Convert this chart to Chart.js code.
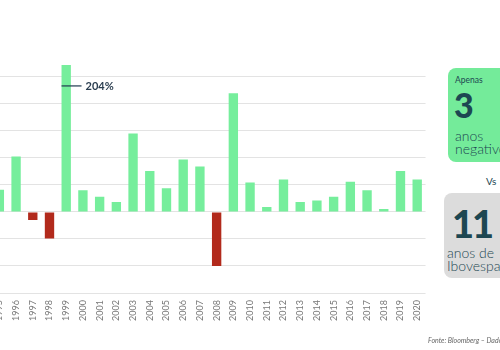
<!DOCTYPE html>
<html>
<head>
<meta charset="utf-8">
<script src="https://cdn.jsdelivr.net/npm/chart.js@4"></script>
<style>
  html, body { margin: 0; padding: 0; background: #fff; }
  body { width: 500px; height: 350px; overflow: hidden; position: relative; font-family: Lato, sans-serif; }
  #wrap { position: absolute; left: -9px; top: 0; width: 444px; height: 350px; }
  .box { position: absolute; border-radius: 8px; width: 90px; color: #1d4752; }
  #green { left: 448px; top: 68px; height: 94px; background: #74eb9a; }
  #gray { left: 444px; top: 193px; height: 85px; background: #dcdcdc; }
  .small { position: absolute; font-size: 8.5px; }
  .big { position: absolute; font-weight: 900; line-height: 1; }
  .txt { position: absolute; font-size: 14px; line-height: 13px; font-weight: 300; white-space: nowrap; }
  #vs { position: absolute; left: 486px; top: 175px; font-size: 10px; color: #1d4752; }
  #fonte { position: absolute; left: 428px; top: 336px; font-size: 7px; font-style: italic; color: #666; white-space: nowrap; }
</style>
</head>
<body>
<div id="wrap"><canvas id="grafico"></canvas></div>

<div class="box" id="green">
  <div class="small" style="left:7px; top:7px;">Apenas</div>
  <div class="big" style="left:6px; top:20px; font-size:34px;">3</div>
  <div class="txt" style="left:7px; top:61px;">anos<br>negativos</div>
</div>
<div id="vs">Vs</div>
<div class="box" id="gray">
  <div class="big" style="left:8px; top:11px; font-size:38px; letter-spacing:-2px;">11</div>
  <div class="txt" style="left:3px; top:53px;">anos de<br>Ibovespa negativos</div>
</div>
<div id="fonte">Fonte: Bloomberg – Dados</div>

<script>
const anos = ['1995', '1996', '1997', '1998', '1999', '2000', '2001', '2002', '2003',
  '2004', '2005', '2006', '2007', '2008', '2009', '2010', '2011', '2012', '2013',
  '2014', '2015', '2016', '2017', '2018', '2019', '2020'];
const retornos = [31, 77, -11, -37, 204, 30, 21, 14, 109, 57, 33, 73, 63, -75, 165,
  41, 7, 45, 14, 16, 21, 42, 30, 4, 57, 45];
const gridTicks = [-112.5, -75, -37.5, 0, 37.5, 75, 112.5, 150, 187.5];
const destaque = { ano: '1999', texto: '204%', nivel: 175 };

const cores = retornos.map(v => v < 0 ? '#b22a1c' : '#76ee9c');

// linha + texto do destaque de 1999
const rotulo = {
  id: 'rotulo',
  afterDatasetsDraw(chart) {
    const ctx = chart.ctx;
    const meta = chart.getDatasetMeta(0);
    const bar = meta.data[anos.indexOf(destaque.ano)];
    const y = chart.scales.y.getPixelForValue(destaque.nivel);
    const x0 = bar.x - bar.width / 2;
    ctx.save();
    ctx.strokeStyle = '#1f3a4f';
    ctx.lineWidth = 1.2;
    ctx.beginPath();
    ctx.moveTo(x0, y);
    ctx.lineTo(x0 + 20, y);
    ctx.stroke();
    ctx.fillStyle = '#2a3d4f';
    ctx.font = 'bold 11px Lato';
    ctx.textBaseline = 'middle';
    ctx.fillText(destaque.texto, x0 + 24, y + 0.5);
    ctx.restore();
  }
};

new Chart(document.getElementById('grafico'), {
  type: 'bar',
  data: {
    labels: anos,
    datasets: [{
      data: retornos,
      backgroundColor: cores,
      barPercentage: 0.56,
      categoryPercentage: 1
    }]
  },
  plugins: [rotulo],
  options: {
    responsive: true,
    maintainAspectRatio: false,
    animation: false,
    layout: { padding: { top: 60, left: 0, right: 0, bottom: 0 } },
    plugins: { legend: { display: false }, tooltip: { enabled: false } },
    scales: {
      x: {
        grid: { display: false, drawTicks: false },
        border: { display: false },
        ticks: {
          color: '#777',
          font: { size: 9, family: 'Lato' },
          minRotation: 90,
          maxRotation: 90,
          padding: 7,
          autoSkip: false
        },
        afterFit(axis) { axis.height = 57; }
      },
      y: {
        min: -112.5,
        max: 211,
        grid: { color: '#e3e3e3', drawTicks: false },
        border: { display: false },
        ticks: { display: false },
        afterBuildTicks(axis) { axis.ticks = gridTicks.map(v => ({ value: v })); },
        afterFit(axis) { axis.width = 0; }
      }
    }
  }
});
</script>
</body>
</html>
